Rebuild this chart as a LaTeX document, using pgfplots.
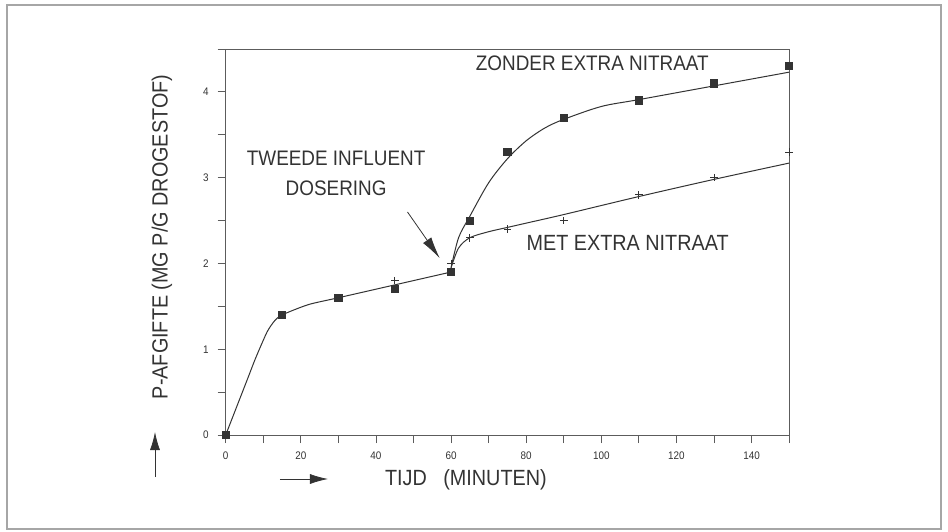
\documentclass[border=0pt]{standalone}
\usepackage{fontspec}
\setmainfont{Liberation Sans}[FakeStretch=0.9]
\usepackage{pgfplots}
\pgfplotsset{compat=1.18}
\usetikzlibrary{arrows.meta}
\definecolor{ink}{HTML}{333333}
\begin{document}
\begin{tikzpicture}
\useasboundingbox (-112.85pt,-48pt) rectangle (361.15pt,217.5pt);
\draw[gray!70, line width=0.8pt] (-109.35pt,-47pt) rectangle (357.65pt,215pt);
\begin{axis}[
  at={(0pt,0pt)}, anchor=south west,
  scale only axis, width=281.7pt, height=193pt,
  xmin=0, xmax=150, ymin=0, ymax=4.5,
  clip=false,
  axis line style={ink!80, line width=0.5pt},
  xtick={0,20,...,140}, minor xtick={10,30,...,150},
  ytick={0,1,2,3,4}, minor ytick={0.5,1.5,...,4.5},
  tick pos=left, tick align=outside,
  major tick length=4pt, minor tick length=4pt,
  tick style={ink!80, line width=0.4pt},
  /pgf/number format/assume math mode=true,
  tick label style={font=\fontsize{5.5}{6}\selectfont, text=ink},
  xticklabel style={yshift=-1pt},
  yticklabel style={xshift=-1pt},
]
% fitted curves
\addplot[ink, line width=0.5pt, smooth, tension=0.4] coordinates {
 (0,0) (2,0.225) (4,0.45) (6,0.675) (8,0.9) (11,1.2) (13,1.33) (15,1.4) (22,1.52) (30,1.6) (45,1.75) (60,1.9)};
\addplot[ink, line width=0.5pt, smooth, tension=0.5] coordinates {
 (60,1.95) (62,2.3) (65,2.55) (70,2.94) (75,3.22) (80,3.43) (85,3.58) (90,3.68) (100,3.83) (110,3.91) (130,4.07) (150,4.23)};
\addplot[ink, line width=0.5pt, smooth, tension=0.5] coordinates {
 (60,1.95) (62,2.18) (65,2.3) (70,2.37) (75,2.42) (80,2.47) (90,2.57) (110,2.78) (130,2.98) (150,3.17)};
% data: zonder extra nitraat
\addplot[only marks, mark=square*, mark size=1.8pt, mark options={fill=ink, draw=ink}] coordinates {
 (0,0) (15,1.4) (30,1.6) (45,1.7) (60,1.9) (65,2.5) (75,3.3) (90,3.7) (110,3.9) (130,4.1) (150,4.3)};
% data: met extra nitraat
\addplot[only marks, mark=+, mark size=1.9pt, mark options={draw=ink, line width=0.4pt}] coordinates {
 (45,1.8) (60,2.0) (65,2.3) (75,2.4) (90,2.5) (110,2.8) (130,3.0) (150,3.3)};
% annotations
\node[text=ink, font=\fontsize{10.5}{12}\selectfont] at (axis cs:97.6,4.33) {ZONDER EXTRA NITRAAT};
\node[text=ink, font=\fontsize{11}{13}\selectfont] at (axis cs:107,2.24) {MET EXTRA NITRAAT};
\node[text=ink, font=\fontsize{10.5}{12}\selectfont] at (axis cs:29.4,3.23) {TWEEDE INFLUENT};
\node[text=ink, font=\fontsize{10.5}{12}\selectfont] at (axis cs:29.4,2.88) {DOSERING};
\draw[ink, line width=0.4pt, -{Latex[length=11pt, width=5pt]}] (axis cs:48.4,2.6) -- (axis cs:57,2.06);
\end{axis}
% axis labels with arrows
\node[anchor=west, text=ink, font=\fontsize{11}{13}\selectfont] at (76.15pt,-22.5pt) {TIJD\ \ \ (MINUTEN)};
\draw[ink, line width=0.4pt, -{Latex[length=9pt, width=5pt]}] (27.15pt,-22pt) -- (51.15pt,-22pt);
\node[rotate=90, text=ink, font=\fontsize{11}{13}\selectfont] at (-31.85pt,99pt) {P-AFGIFTE (MG P/G DROGESTOF)};
\draw[ink, line width=0.4pt, -{Latex[length=9pt, width=5pt]}] (-35.35pt,-21pt) -- (-35.35pt,1.5pt);
\end{tikzpicture}
\end{document}
